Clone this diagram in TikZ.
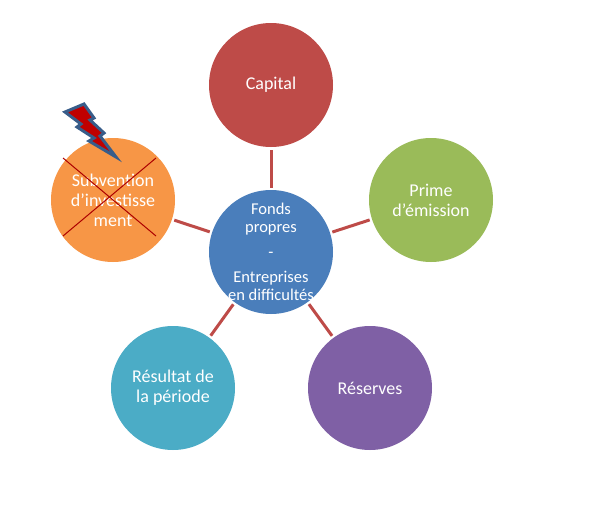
\documentclass[tikz,border=0pt]{standalone}
\usepackage{fontspec}
\setmainfont{Carlito}
\definecolor{cblue}{HTML}{4A7EBB}
\definecolor{cred}{HTML}{BE4B48}
\definecolor{cgreen}{HTML}{9ABB59}
\definecolor{cpurple}{HTML}{7F60A5}
\definecolor{cteal}{HTML}{4BACC6}
\definecolor{corange}{HTML}{F79646}
\definecolor{clink}{HTML}{BE4B48}
\definecolor{cbolt}{HTML}{C00000}
\definecolor{cboltedge}{HTML}{385D8A}
\tikzset{
  bubble/.style={circle,minimum size=124pt,inner sep=0pt,outer sep=2.5pt},
  bubbletext/.style={text=white,align=center,font=\fontsize{18}{20}\selectfont},
  centertext/.style={text=white,align=center,font=\fontsize{16.5}{18}\selectfont},
  spoke/.style={draw=clink,line width=3pt},
  crossline/.style={draw=cbolt!90!black,line width=1pt},
}
\begin{document}
\begin{tikzpicture}[x=1pt,y=-1pt]
\useasboundingbox[fill=white] (0,0) rectangle (595,522);
\node[bubble,fill=cred,label={[bubbletext]center:Capital}] (cap) at (271,85) {};
\node[bubble,fill=cgreen,label={[bubbletext]center:Prime\\d’émission}] (prime) at (431,200) {};
\node[bubble,fill=cpurple,label={[bubbletext]center:Réserves}] (res) at (370,388) {};
\node[bubble,fill=cteal,label={[bubbletext]center:Résultat de\\la période}] (per) at (173,388) {};
\node[bubble,fill=corange,label={[bubbletext]center:Subvention\\d’investisse\\ment}] (sub) at (113,200) {};
\node[bubble,fill=cblue,label={[centertext]center:Fonds\\propres\\[7pt]-\\[7pt]Entreprises\\en difficultés}] (fp) at (271,252) {};
\foreach \n in {cap,prime,res,per,sub}{\draw[spoke] (fp) -- (\n);}
\coordinate (xa) at (63,158);
\coordinate (xb) at (156,236);
\coordinate (xc) at (156,158);
\coordinate (xd) at (63,236);
\draw[crossline] (xa) -- (xb);
\draw[crossline] (xc) -- (xd);
\draw[fill=cbolt,draw=cboltedge,line width=3pt,line join=miter]
 (65,112) -- (84,104) -- (94,118) -- (90,120) -- (104,133) -- (100,136) -- (116,157)
 -- (89,141) -- (94,138) -- (77,127) -- (81,124) -- cycle;
\end{tikzpicture}
\end{document}
